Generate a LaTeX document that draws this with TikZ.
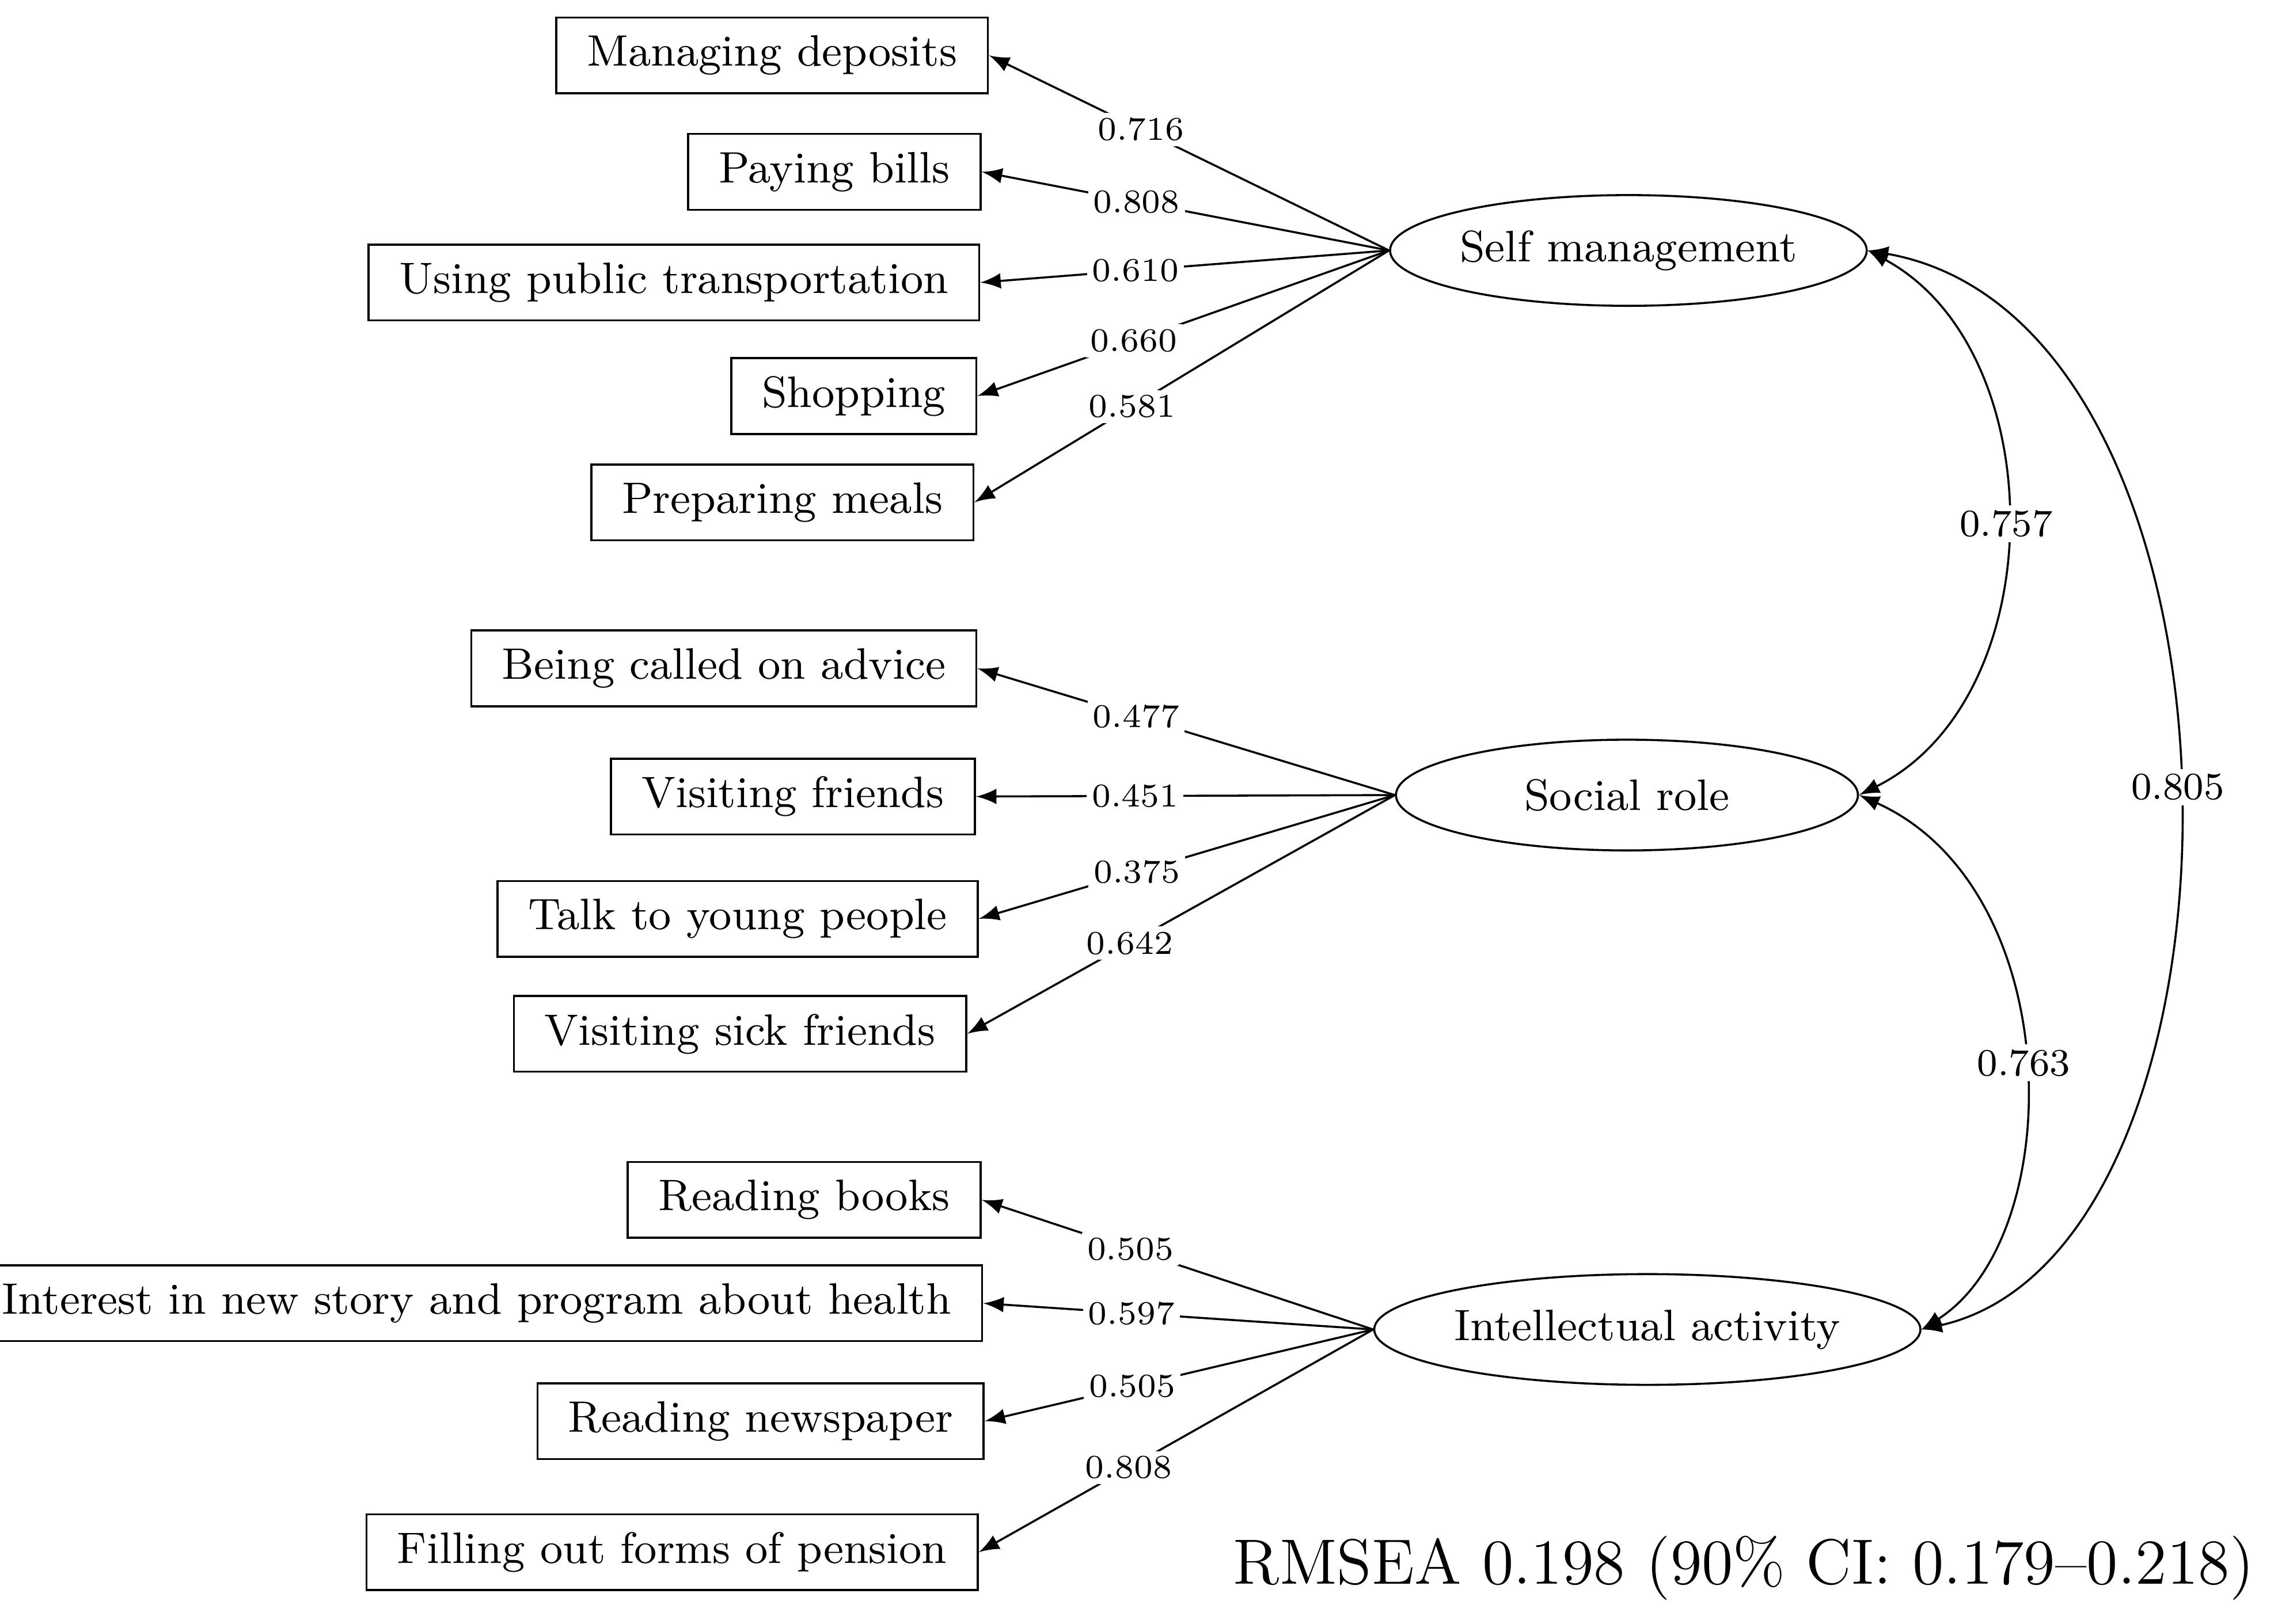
\documentclass[tikz,border=0pt]{standalone}
\usetikzlibrary{positioning,shapes.geometric,arrows}
\tikzstyle{item}=[draw,rectangle,anchor=east,minimum height=0.52cm,inner xsep=6pt,font=\fontsize{8.6}{10}\selectfont]
\tikzstyle{factor}=[draw,ellipse,inner sep=0pt,minimum width=3.17cm,minimum height=0.76cm,font=\fontsize{8.6}{10}\selectfont]
\tikzstyle{load}=[fill=white,inner sep=1pt,pos=0.62,font=\fontsize{6.5}{8}\selectfont]
\begin{document}
\begin{tikzpicture}[x=0.01cm,y=-0.01cm,>=latex,thin]
  \useasboundingbox (0,0) rectangle (1564,1115);
  % Latent factors
  \node[factor] (self) at (1118,172) {Self management};
  \node[factor] (social) at (1117,546) {Social role};
  \node[factor] (intel) at (1131,913) {Intellectual activity};
  %
  % Observed items
  \foreach \place/\name/\txt in {{(679,38)/md/Managing deposits}, {(674,118)/pb/Paying bills},
      {(673,194)/pt/Using public transportation}, {(671,272)/sh/Shopping}, {(669,345)/pm/Preparing meals},
      {(671,459)/ca/Being called on advice}, {(670,547)/vf/Visiting friends},
      {(672,631)/yp/Talk to young people}, {(664,710)/vs/Visiting sick friends},
      {(674,824)/rb/Reading books}, {(675,895)/ih/Interest in new story and program about health},
      {(676,976)/rn/Reading newspaper}, {(672,1066)/fp/Filling out forms of pension}}
    \node[item] (\name) at \place {\txt};
  %
  % Loadings
  \foreach \src/\dst/\val in {self/md/0.716, self/pb/0.808, self/pt/0.610, self/sh/0.660, self/pm/0.581,
      social/ca/0.477, social/vf/0.451, social/yp/0.375, social/vs/0.642,
      intel/rb/0.505, intel/ih/0.597, intel/rn/0.505, intel/fp/0.808}
    \path[->] (\src.west) edge node[load] {\val} (\dst.east);
  %
  % Correlations
  \draw[<->] (self.east) .. controls (1410,240) and (1410,480) .. node[load,pos=0.5] {\fontsize{7.5}{9}\selectfont 0.757} (social.east);
  \draw[<->] (social.east) .. controls (1420,610) and (1420,850) .. node[load,pos=0.5] {\fontsize{7.5}{9}\selectfont 0.763} (intel.east);
  \draw[<->] (self.east) .. controls (1560,220) and (1560,860) .. node[load,pos=0.5] {\fontsize{7.5}{9}\selectfont 0.805} (intel.east);
  %
  \node[anchor=east,font=\fontsize{12.5}{15}\selectfont] (fit) at (1560,1077) {RMSEA 0.198 (90\% CI: 0.179--0.218)};
\end{tikzpicture}
\end{document}
